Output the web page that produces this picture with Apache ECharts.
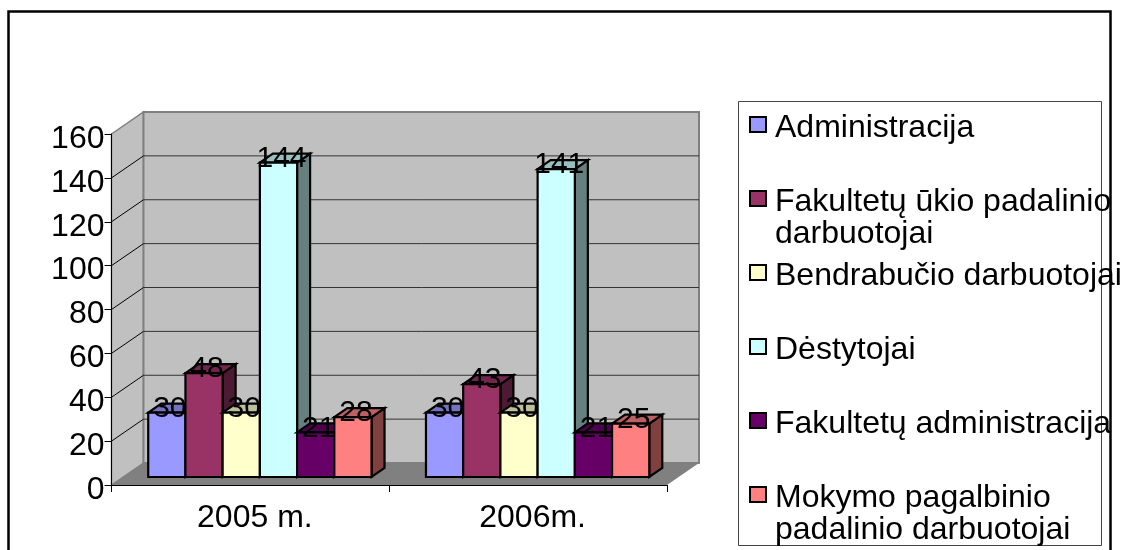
<!DOCTYPE html>
<html>
<head>
<meta charset="utf-8">
<style>html,body{margin:0;padding:0;background:#fff}#main{width:1125px;height:550px}</style>
<script src="https://cdn.jsdelivr.net/npm/echarts@6/dist/echarts.min.js"></script>
</head>
<body>
<div id="main"></div>
<script>
let categories = ['2005 m.', '2006m.'];
let yTicks = [0, 20, 40, 60, 80, 100, 120, 140, 160];
let administracija = [30, 30];
let ukioPadalinio = [48, 43];
let bendrabucio = [30, 30];
let destytojai = [144, 141];
let fakAdministracija = [21, 21];
let mokymoPadalinio = [28, 25];
let seriesValues = [administracija, ukioPadalinio, bendrabucio, destytojai, fakAdministracija, mokymoPadalinio];
let seriesNames = ['Administracija', 'Fakultetų ūkio padalinio darbuotojai', 'Bendrabučio darbuotojai', 'Dėstytojai', 'Fakultetų administracija', 'Mokymo pagalbinio padalinio darbuotojai'];
let legendLines = [['Administracija'], ['Fakultetų ūkio padalinio', 'darbuotojai'], ['Bendrabučio darbuotojai'], ['Dėstytojai'], ['Fakultetų administracija'], ['Mokymo pagalbinio', 'padalinio darbuotojai']];
let frontColors = ['#9999FF', '#993366', '#FFFFCC', '#CCFFFF', '#660066', '#FF8080'];
let topColors = ['#7373BF', '#73264D', '#BFBF99', '#99BFBF', '#4D004D', '#BF6060'];
let sideColors = ['#4D4D80', '#4D1A33', '#808066', '#668080', '#330033', '#804040'];

const FONT = '"Liberation Sans", Arial, sans-serif';
// 3d look: wall depth, bar shift from the front axis, bar depth
const wallDx = 32, wallDy = -22;
const shiftDx = 9.5, shiftDy = -8;
const topTrim = 1.5;
const barDx = 13, barDy = -9;
const barRatio = 0.134;

function renderWalls(params, api) {
    let cs = params.coordSys;
    let x0 = cs.x, x1 = cs.x + cs.width;
    let yBase = api.coord([0, 0])[1];
    let yTop = api.coord([0, yTicks[yTicks.length - 1]])[1];
    let children = [];
    children.push({type: 'polygon', shape: {points: [[x0, yTop], [x0 + wallDx, yTop + wallDy], [x0 + wallDx, yBase + wallDy], [x0, yBase]]},
        style: {fill: '#C0C0C0', stroke: '#808080', lineWidth: 1.5}});
    children.push({type: 'rect', shape: {x: x0 + wallDx, y: yTop + wallDy, width: x1 - x0, height: yBase - yTop},
        style: {fill: '#C0C0C0', stroke: '#808080', lineWidth: 2}});
    children.push({type: 'polygon', shape: {points: [[x0, yBase], [x1, yBase], [x1 + wallDx, yBase + wallDy], [x0 + wallDx, yBase + wallDy]]},
        style: {fill: '#808080'}});
    yTicks.forEach(function (t) {
        if (t === 0) return;
        let y = api.coord([0, t])[1];
        if (t < yTicks[yTicks.length - 1]) {
            children.push({type: 'line', shape: {x1: x0 + wallDx, y1: y + wallDy, x2: x1 + wallDx, y2: y + wallDy},
                style: {stroke: '#333333', lineWidth: 1}});
            children.push({type: 'line', shape: {x1: x0, y1: y, x2: x0 + wallDx, y2: y + wallDy},
                style: {stroke: '#000', lineWidth: 1}});
        }
    });
    return {type: 'group', children: children};
}

function renderBar(s) {
    return function (params, api) {
        let cat = api.value(0), val = api.value(1);
        let top = api.coord([cat, val]);
        let base = api.coord([cat, 0]);
        let band = api.size([1, 0])[0];
        let w = band * barRatio;
        let n = seriesValues.length;
        let left = top[0] - w * n / 2 + w * s + shiftDx;
        let right = left + w;
        let yt = top[1] + shiftDy + topTrim, yb = base[1] + shiftDy;
        let edge = {stroke: '#000', lineWidth: 2.2, lineJoin: 'miter'};
        return {type: 'group', children: [
            {type: 'polygon', shape: {points: [[right, yt], [right + barDx, yt + barDy], [right + barDx, yb + barDy], [right, yb]]},
                style: Object.assign({fill: sideColors[s]}, edge)},
            {type: 'polygon', shape: {points: [[left, yt], [left + barDx, yt + barDy], [right + barDx, yt + barDy], [right, yt]]},
                style: Object.assign({fill: topColors[s]}, edge)},
            {type: 'rect', shape: {x: left, y: yt, width: w, height: yb - yt},
                style: Object.assign({fill: frontColors[s]}, edge)},
            {type: 'text', x: (left + right) / 2 + 3, y: yt - 4,
                style: {text: String(val), fill: '#000', font: '30px ' + FONT, textAlign: 'center', textVerticalAlign: 'middle'}}
        ]};
    };
}

let series = [{
    type: 'custom',
    name: 'walls',
    silent: true,
    z: 1,
    data: [[0, 0]],
    encode: {x: 0, y: 1},
    renderItem: renderWalls
}];
seriesNames.forEach(function (name, s) {
    series.push({
        type: 'custom',
        name: name,
        z: 2,
        itemStyle: {color: frontColors[s]},
        encode: {x: 0, y: 1},
        data: seriesValues[s].map(function (v, i) { return [i, v]; }),
        renderItem: renderBar(s)
    });
});

let myChart = echarts.init(document.getElementById('main'));
myChart.setOption({
    animation: false,
    backgroundColor: '#fff',
    grid: {left: 111.5, top: 134, width: 555.5, height: 351, containLabel: false},
    xAxis: {
        type: 'category',
        data: categories,
        z: 10,
        axisLine: {lineStyle: {color: '#000', width: 1}},
        axisTick: {show: true, length: 7, lineStyle: {color: '#000'}},
        axisLabel: {color: '#000', fontFamily: FONT, fontSize: 32, margin: 17, padding: [0, 0, 0, 9]}
    },
    yAxis: {
        type: 'value',
        min: 0,
        max: 160,
        interval: 20,
        z: 10,
        axisLine: {show: true, lineStyle: {color: '#000', width: 1}},
        axisTick: {show: true, length: 7, lineStyle: {color: '#000'}},
        splitLine: {show: false},
        // top aligned with a short line height puts the digits just under the tick
        axisLabel: {color: '#000', fontFamily: FONT, fontSize: 32, margin: 7, verticalAlign: 'top', lineHeight: 10}
    },
    legend: {
        orient: 'vertical',
        left: 749,
        top: 76.5,
        padding: 0,
        itemGap: -26,
        itemWidth: 16,
        itemHeight: 15,
        icon: 'rect',
        itemStyle: {borderColor: '#000', borderWidth: 2},
        data: seriesNames,
        textStyle: {
            color: '#000', fontFamily: FONT, fontSize: 32, padding: [0, 0, 0, 4],
            rich: {
                e: {fontSize: 32, fontFamily: FONT, lineHeight: 40},
                t: {fontSize: 32, fontFamily: FONT, lineHeight: 32, color: '#000'}
            }
        },
        // blank first line keeps the swatch level with the first text line
        formatter: function (name) {
            let lines = legendLines[seriesNames.indexOf(name)];
            return '{e| }\n{t|' + lines[0] + '}\n{t|' + (lines[1] || ' ') + '}';
        }
    },
    graphic: [
        {type: 'rect', z: -1, silent: true, shape: {x: 738.5, y: 101.5, width: 363, height: 444},
            style: {fill: '#fff', stroke: '#444', lineWidth: 1}},
        {type: 'polyline', z: 100, silent: true, shape: {points: [[8.5, 552], [8.5, 11.5], [1110.5, 11.5], [1110.5, 552]]},
            style: {fill: 'none', stroke: '#000', lineWidth: 2.5}}
    ],
    series: series
});

window.addEventListener('resize', function () {
    myChart.resize();
});
</script>
</body>
</html>
